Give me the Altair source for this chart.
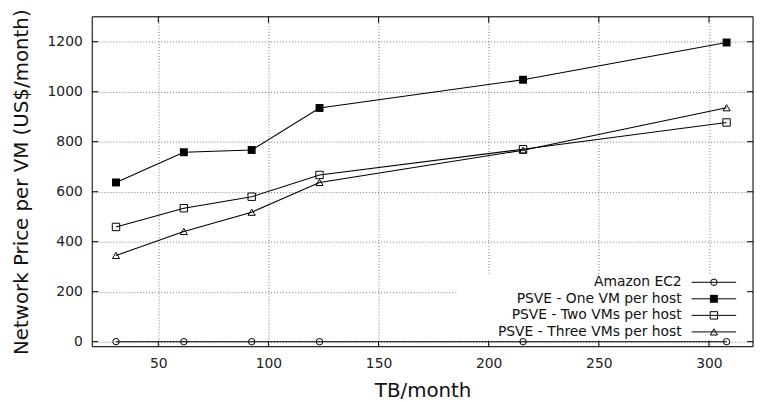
import altair as alt
import pandas as pd

# ---- data ----
tb_month = [30.8, 61.6, 92.4, 123.2, 215.6, 308.0]
series_names = [
    "Amazon EC2",
    "PSVE - One VM per host",
    "PSVE - Two VMs per host",
    "PSVE - Three VMs per host",
]
ec2 = [0, 0, 0, 0, 0, 0]
one_vm = [637, 758, 767, 935, 1048, 1197]
two_vm = [459, 534, 580, 667, 770, 877]
three_vm = [345, 441, 518, 637, 766, 936]

x_ticks = [50, 100, 150, 200, 250, 300]
y_ticks = [0, 200, 400, 600, 800, 1000, 1200]

# ---- layout/style ----
W, H = 667, 333
FONT = "DejaVu Sans"
XDOM = [20, 320]
YDOM = [-20, 1300]
shapes = ["circle", "square", "square", "triangle-up"]
filled = [False, True, False, False]
sizes = [42, 64, 56, 52]

rows = []
for name, vals in zip(series_names, [ec2, one_vm, two_vm, three_vm]):
    for x, y in zip(tb_month, vals):
        rows.append({"series": name, "tb": x, "price": y})
df = pd.DataFrame(rows)

xs = alt.Scale(domain=XDOM, nice=False, zero=False)
ys = alt.Scale(domain=YDOM, nice=False, zero=False)

xaxis = alt.Axis(values=x_ticks, title="TB/month", titleFontSize=20, titleFont=FONT,
                 titleFontWeight="normal", titleColor="#111", titlePadding=10,
                 labelFont=FONT, labelFontSize=14, labelColor="#222", labelPadding=10,
                 format="d", tickSize=0, domain=False, grid=True, gridDash=[1, 2],
                 gridColor="#777", gridOpacity=1, gridWidth=1)
yaxis = alt.Axis(values=y_ticks, title="Network Price per VM (US$/month)", titleFontSize=20,
                 titleFont=FONT, titleFontWeight="normal", titleColor="#111", titlePadding=16,
                 labelFont=FONT, labelFontSize=14, labelColor="#222", labelPadding=10,
                 format="d", tickSize=0, domain=False, grid=True, gridDash=[1, 2],
                 gridColor="#777", gridOpacity=1, gridWidth=1)


def X(field):
    return alt.X(field, scale=xs, axis=xaxis)


def Y(field):
    return alt.Y(field, scale=ys, axis=yaxis)


base = alt.Chart(df)

# white key box blanks the grid in the lower right
key_box = alt.Chart(pd.DataFrame({"tb": [186.0], "x2": [319.5], "price": [10], "y2": [266]})).mark_rect(
    color="white").encode(x=X("tb:Q"), x2="x2:Q", y=Y("price:Q"), y2="y2:Q")

lines = base.mark_line(color="black", strokeWidth=1.1).encode(
    x=X("tb:Q"), y=Y("price:Q"), detail="series:N")

point_layers = []
for name, shp, fl, sz in zip(series_names, shapes, filled, sizes):
    point_layers.append(
        base.transform_filter(alt.datum.series == name).mark_point(
            shape=shp, filled=fl, size=sz, color="black", strokeWidth=1, opacity=1
        ).encode(x=X("tb:Q"), y=Y("price:Q"))
    )

# inward ticks on all four sides
xt = alt.Chart(pd.DataFrame({"tb": x_ticks}))
yt = alt.Chart(pd.DataFrame({"price": y_ticks}))
tick_b = xt.mark_rule(color="black").encode(x=X("tb:Q"), y=alt.value(H), y2=alt.value(H - 6))
tick_t = xt.mark_rule(color="black").encode(x=X("tb:Q"), y=alt.value(0), y2=alt.value(6))
tick_l = yt.mark_rule(color="black").encode(y=Y("price:Q"), x=alt.value(0), x2=alt.value(6))
tick_r = yt.mark_rule(color="black").encode(y=Y("price:Q"), x=alt.value(W), x2=alt.value(W - 6))

# key (gnuplot style: text, then line sample with symbol)
key_df = pd.DataFrame({"series": series_names, "i": list(range(len(series_names)))})
key_df["ly"] = 268 + 16.7 * key_df["i"]
key = alt.Chart(key_df)
key_text = key.mark_text(align="right", baseline="middle", font=FONT, fontSize=14,
                         color="#111").encode(
    x=alt.value(595), y=alt.Y("ly:Q", scale=None, axis=None), text="series:N")
key_line = key.mark_rule(color="black", strokeWidth=1).encode(
    x=alt.value(605), x2=alt.value(650), y=alt.Y("ly:Q", scale=None, axis=None))
key_pts = []
for i, (shp, fl, sz) in enumerate(zip(shapes, filled, sizes)):
    key_pts.append(
        key.transform_filter(alt.datum.i == i).mark_point(
            shape=shp, filled=fl, size=sz, color="black", strokeWidth=1, opacity=1
        ).encode(x=alt.value(627.5), y=alt.Y("ly:Q", scale=None, axis=None))
    )

frame = alt.Chart(pd.DataFrame({"a": [0]})).mark_rect(
    fill=None, stroke="black", strokeWidth=1).encode(
    x=alt.value(0), x2=alt.value(W), y=alt.value(0), y2=alt.value(H))

chart = alt.layer(
    key_box, lines, *point_layers, tick_b, tick_t, tick_l, tick_r,
    key_line, *key_pts, key_text, frame
).properties(
    width=W, height=H,
    padding={"left": 85, "top": 7, "right": 1, "bottom": 54},
    autosize="none",
).configure_view(stroke=None).configure(background="white")

chart.save("out.html", embed_options={"renderer": "svg", "actions": False})
